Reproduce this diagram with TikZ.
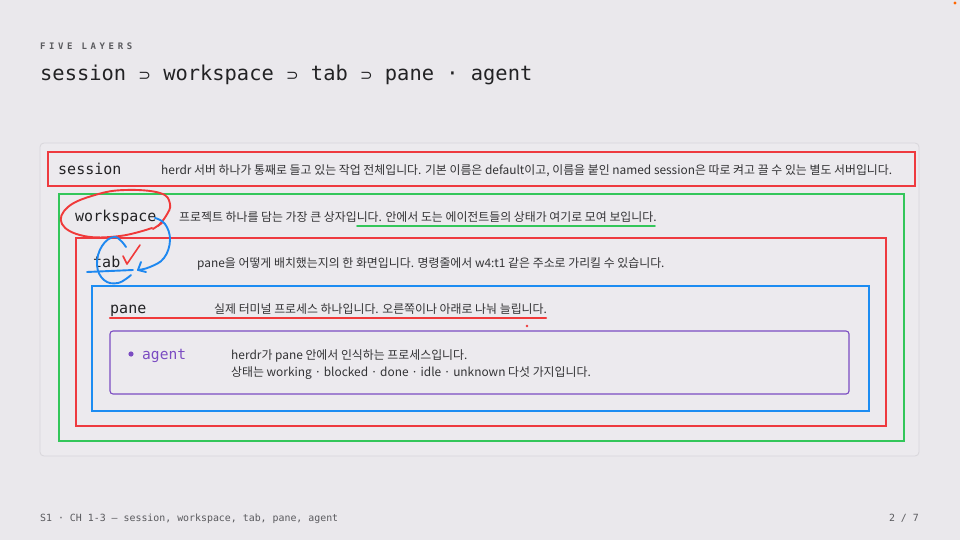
\documentclass[tikz,border=0pt]{standalone}
\usepackage{fontspec}
\setmainfont{Noto Sans CJK KR}
\newfontfamily\monof{DejaVu Sans Mono}
\newfontfamily\symf{DejaVu Sans}
\usetikzlibrary{arrows.meta}
\definecolor{bg}{HTML}{EAE8EC}
\definecolor{panelbg}{HTML}{ECEAEE}
\definecolor{panelbd}{HTML}{D8D6DB}
\definecolor{cred}{HTML}{EE3A3F}
\definecolor{cgreen}{HTML}{33C65A}
\definecolor{cblue}{HTML}{1C8CF2}
\definecolor{cpurple}{HTML}{7B4CC2}
\definecolor{ink}{HTML}{222224}
\definecolor{desc}{HTML}{333335}
\definecolor{muted}{HTML}{5A5A5E}
\definecolor{penred}{HTML}{F03A3A}
\definecolor{penblue}{HTML}{1E88F0}
\begin{document}
\begin{tikzpicture}[x=1pt,y=-1pt,
  layerbox/.style={line width=2.4pt},
  lbl/.style={anchor=base west, font=\monof\fontsize{15}{18}\selectfont, text=ink, inner sep=0pt},
  descr/.style={anchor=base west, font=\fontsize{11.9}{15}\selectfont, text=desc, inner sep=0pt},
  pen/.style={line width=1.9pt, line cap=round, line join=round},
]
\useasboundingbox (0,0) rectangle (960,540);
\fill[bg] (0,0) rectangle (960,540);
\fill[orange!80!red] (955,3) circle (1.6pt);

% header
\node[anchor=base west, inner sep=0pt, text=muted,
  font=\monof\bfseries\fontsize{9}{11}\selectfont\addfontfeature{LetterSpace=40}]
  (kicker) at (40,50) {FIVE LAYERS};
\node[anchor=base west, inner sep=0pt, text=ink, font=\monof\fontsize{20.4}{24}\selectfont]
  (title) at (40,81) {session {\symf\fontsize{15}{18}\selectfont ⊃} workspace {\symf\fontsize{15}{18}\selectfont ⊃} tab {\symf\fontsize{15}{18}\selectfont ⊃} pane · agent};

% panel
\draw[panelbd, fill=panelbg, line width=0.8pt, rounded corners=4pt] (40,143) rectangle (919,456);

% layer boxes
\draw[layerbox, cred]   (48,152) rectangle (915,186);
\draw[layerbox, cgreen] (59,194) rectangle (904,441);
\draw[layerbox, cred]   (76,238) rectangle (886,426);
\draw[layerbox, cblue]  (92,286) rectangle (869,411);
\draw[cpurple, line width=1.1pt, rounded corners=3pt] (110,331) rectangle (849,394);

% labels and descriptions
\node[lbl] (lsession) at (58,175) {session};
\node[descr] (dsession) at (161,175) {herdr 서버 하나가 통째로 들고 있는 작업 전체입니다. 기본 이름은 default이고, 이름을 붙인 named session은 따로 켜고 끌 수 있는 별도 서버입니다.};

\node[lbl] (lworkspace) at (75,221) {workspace};
\node[descr] (dworkspace) at (179,221) {프로젝트 하나를 담는 가장 큰 상자입니다. 안에서 도는 에이전트들의 상태가 여기로 모여 보입니다.};

\node[lbl] (ltab) at (93,267) {tab};
\node[descr] (dtab) at (197,267) {pane을 어떻게 배치했는지의 한 화면입니다. 명령줄에서 w4:t1 같은 주소로 가리킬 수 있습니다.};

\node[lbl] (lpane) at (110,313) {pane};
\node[descr] (dpane) at (214,313) {실제 터미널 프로세스 하나입니다. 오른쪽이나 아래로 나눠 늘립니다.};

\fill[cpurple] (131,354) circle (2.6pt);
\node[lbl, text=cpurple, font=\monof\fontsize{14.6}{18}\selectfont] (lagent) at (142,359) {agent};
\node[descr] (dagent1) at (231,359) {herdr가 pane 안에서 인식하는 프로세스입니다.};
\node[descr] (dagent2) at (231,376) {상태는 working · blocked · done · idle · unknown 다섯 가지입니다.};

% footer
\node[anchor=base west, inner sep=0pt, text=muted, font=\monof\fontsize{9.9}{12}\selectfont]
  (footl) at (40,521) {S1 · CH 1-3 — session, workspace, tab, pane, agent};
\node[anchor=base east, inner sep=0pt, text=muted, font=\monof\fontsize{9.9}{12}\selectfont]
  (footr) at (919,521) {2 / 7};

% hand annotations
\draw[pen, penred] plot[smooth, tension=0.7] coordinates {(152,228) (120,236) (84,236) (62,224) (68,207) (95,195) (125,190) (160,193) (170,204) (166,216) (158,226)};
\draw[pen, penred] (153,229) -- (162,223);
\draw[pen, cgreen] (357,226) -- (655,226);
\draw[pen, penred, line width=2.2pt] (110,318) -- (546,318);
\fill[penred] (527,326) circle (1.3pt);
\draw[pen, penblue] plot[smooth, tension=0.7] coordinates {(155,218) (165,224) (170,240) (164,258) (150,267) (138,270)};
\draw[pen, penblue] (138,270) -- (141,262);
\draw[pen, penblue] (138,270) -- (146,272);
\draw[pen, penblue] plot[smooth, tension=0.7] coordinates {(126,247) (115,237) (102,246) (97,265) (104,280) (118,283) (131,275)};
\draw[pen, penblue] (87,272) -- (133,270);
\draw[pen, penred, line width=1.6pt] (123,256) -- (127,264) -- (140,245);
\end{tikzpicture}
\end{document}
